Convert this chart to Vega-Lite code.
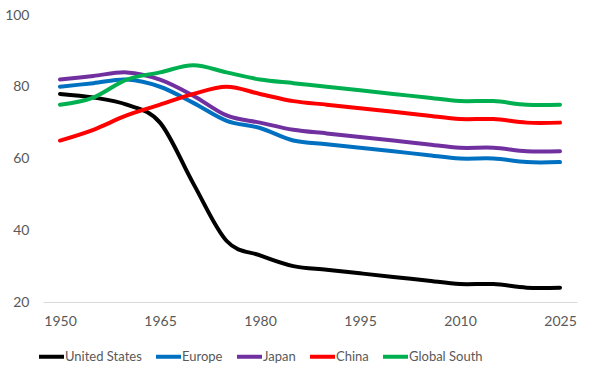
{
  "$schema": "https://vega.github.io/schema/vega-lite/v6.json",
  "width": 534,
  "height": 287,
  "autosize": "none",
  "padding": {"left": 43, "top": 15, "right": 13, "bottom": 68},
  "background": "white",
  "config": {
    "view": {"stroke": null},
    "font": "Lato",
    "axis": {"labelFont": "Lato", "labelFontSize": 14, "labelColor": "#595959", "grid": false, "ticks": false},
    "legend": {"labelFont": "Lato", "labelFontSize": 13, "labelColor": "#595959"}
  },
  "data": {
    "values": [
      {"year": 1950, "region": "United States", "value": 78},
      {"year": 1955, "region": "United States", "value": 77},
      {"year": 1960, "region": "United States", "value": 75},
      {"year": 1965, "region": "United States", "value": 70},
      {"year": 1970, "region": "United States", "value": 53},
      {"year": 1975, "region": "United States", "value": 37},
      {"year": 1980, "region": "United States", "value": 33},
      {"year": 1985, "region": "United States", "value": 30},
      {"year": 1990, "region": "United States", "value": 29},
      {"year": 1995, "region": "United States", "value": 28},
      {"year": 2000, "region": "United States", "value": 27},
      {"year": 2005, "region": "United States", "value": 26},
      {"year": 2010, "region": "United States", "value": 25},
      {"year": 2015, "region": "United States", "value": 25},
      {"year": 2020, "region": "United States", "value": 24},
      {"year": 2025, "region": "United States", "value": 24},
      {"year": 1950, "region": "Europe", "value": 80},
      {"year": 1955, "region": "Europe", "value": 81},
      {"year": 1960, "region": "Europe", "value": 82},
      {"year": 1965, "region": "Europe", "value": 80},
      {"year": 1970, "region": "Europe", "value": 75.5},
      {"year": 1975, "region": "Europe", "value": 70.5},
      {"year": 1980, "region": "Europe", "value": 68.5},
      {"year": 1985, "region": "Europe", "value": 65},
      {"year": 1990, "region": "Europe", "value": 64},
      {"year": 1995, "region": "Europe", "value": 63},
      {"year": 2000, "region": "Europe", "value": 62},
      {"year": 2005, "region": "Europe", "value": 61},
      {"year": 2010, "region": "Europe", "value": 60},
      {"year": 2015, "region": "Europe", "value": 60},
      {"year": 2020, "region": "Europe", "value": 59},
      {"year": 2025, "region": "Europe", "value": 59},
      {"year": 1950, "region": "Japan", "value": 82},
      {"year": 1955, "region": "Japan", "value": 83},
      {"year": 1960, "region": "Japan", "value": 84},
      {"year": 1965, "region": "Japan", "value": 82},
      {"year": 1970, "region": "Japan", "value": 77.5},
      {"year": 1975, "region": "Japan", "value": 72},
      {"year": 1980, "region": "Japan", "value": 70},
      {"year": 1985, "region": "Japan", "value": 68},
      {"year": 1990, "region": "Japan", "value": 67},
      {"year": 1995, "region": "Japan", "value": 66},
      {"year": 2000, "region": "Japan", "value": 65},
      {"year": 2005, "region": "Japan", "value": 64},
      {"year": 2010, "region": "Japan", "value": 63},
      {"year": 2015, "region": "Japan", "value": 63},
      {"year": 2020, "region": "Japan", "value": 62},
      {"year": 2025, "region": "Japan", "value": 62},
      {"year": 1950, "region": "China", "value": 65},
      {"year": 1955, "region": "China", "value": 68},
      {"year": 1960, "region": "China", "value": 72},
      {"year": 1965, "region": "China", "value": 75},
      {"year": 1970, "region": "China", "value": 78},
      {"year": 1975, "region": "China", "value": 80},
      {"year": 1980, "region": "China", "value": 78},
      {"year": 1985, "region": "China", "value": 76},
      {"year": 1990, "region": "China", "value": 75},
      {"year": 1995, "region": "China", "value": 74},
      {"year": 2000, "region": "China", "value": 73},
      {"year": 2005, "region": "China", "value": 72},
      {"year": 2010, "region": "China", "value": 71},
      {"year": 2015, "region": "China", "value": 71},
      {"year": 2020, "region": "China", "value": 70},
      {"year": 2025, "region": "China", "value": 70},
      {"year": 1950, "region": "Global South", "value": 75},
      {"year": 1955, "region": "Global South", "value": 77},
      {"year": 1960, "region": "Global South", "value": 82},
      {"year": 1965, "region": "Global South", "value": 84},
      {"year": 1970, "region": "Global South", "value": 86},
      {"year": 1975, "region": "Global South", "value": 84},
      {"year": 1980, "region": "Global South", "value": 82},
      {"year": 1985, "region": "Global South", "value": 81},
      {"year": 1990, "region": "Global South", "value": 80},
      {"year": 1995, "region": "Global South", "value": 79},
      {"year": 2000, "region": "Global South", "value": 78},
      {"year": 2005, "region": "Global South", "value": 77},
      {"year": 2010, "region": "Global South", "value": 76},
      {"year": 2015, "region": "Global South", "value": 76},
      {"year": 2020, "region": "Global South", "value": 75},
      {"year": 2025, "region": "Global South", "value": 75}
    ]
  },
  "mark": {"type": "line", "interpolate": "cardinal", "strokeWidth": 4, "strokeCap": "round"},
  "encoding": {
    "x": {
      "field": "year",
      "type": "quantitative",
      "scale": {"domain": [1947.45, 2027.55], "nice": false, "zero": false},
      "axis": {
        "title": null,
        "values": [1950, 1965, 1980, 1995, 2010, 2025],
        "format": "d",
        "domainColor": "#d9d9d9",
        "domainWidth": 1,
        "labelPadding": 12,
        "labelFlush": false
      }
    },
    "y": {
      "field": "value",
      "type": "quantitative",
      "scale": {"domain": [20, 100], "nice": false, "zero": false},
      "axis": {
        "title": null,
        "values": [20, 40, 60, 80, 100],
        "domain": false,
        "labelPadding": 14
      }
    },
    "color": {
      "field": "region",
      "type": "nominal",
      "scale": {
        "domain": ["United States", "Europe", "Japan", "China", "Global South"],
        "range": ["#000000", "#0070C0", "#7030A0", "#FF0000", "#00B050"]
      },
      "legend": {
        "title": null,
        "orient": "none",
        "direction": "horizontal",
        "legendX": -6,
        "legendY": 327,
        "symbolType": "stroke",
        "symbolSize": 625,
        "symbolStrokeWidth": 4,
        "labelOffset": -1,
        "columnPadding": 6
      }
    }
  }
}
